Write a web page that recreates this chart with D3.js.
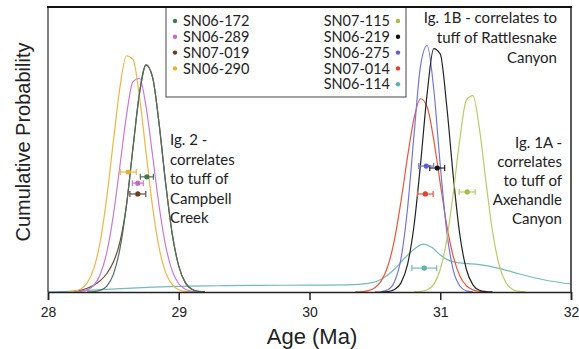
<!DOCTYPE html>
<html>
	<head>
		<meta charset="utf-8">
		<script src="https://cdn.jsdelivr.net/npm/d3@7"></script>
		<style>
			body { margin: 0; background: #fff; }
			.lab { font-family: Lato, "Open Sans", sans-serif; fill: #222; }
			.axt { font-family: "Liberation Sans", Arial, sans-serif; fill: #222; }
		</style>
	</head>
	<body>
		<script>
			// samples, in legend order
			var sampleNames = ["SN06-172", "SN06-289", "SN07-019", "SN06-290",
				"SN07-115", "SN06-219", "SN06-275", "SN07-014", "SN06-114"];
			var sampleColors = ["#3f7a55", "#c868c4", "#6b3b26", "#e8b032",
				"#a6bc48", "#111111", "#5c5cd0", "#e0402c", "#5fb0b0"];
			var curveColors = ["#4d6f5c", "#c87ad0", "#6b4a3a", "#eab648",
				"#bcc868", "#222222", "#7676d6", "#e4583e", "#74baba"];

			// weighted mean age (Ma), 2 sigma error and height the bar is drawn at
			var meanAge = [28.756, 28.687, 28.687, 28.614, 31.206, 30.977, 30.893, 30.886, 30.878];
			var ageErr = [0.05, 0.042, 0.061, 0.061, 0.061, 0.057, 0.057, 0.06, 0.095];
			var barLevel = [40.4, 38.2, 34.4, 42.1, 35.1, 43.5, 44.2, 34.4, 8.4];

			// probability curves [age, relative probability]
			var curve_SN06_172 = [[28.30,0.03],[28.35,0.14],[28.40,0.6],[28.45,2.1],[28.50,6.2],[28.55,15.1],
				[28.60,30.4],[28.65,50.6],[28.70,69.8],[28.75,79.7],[28.80,75.3],[28.85,58.9],[28.90,38.1],
				[28.95,20.4],[29.00,9.1],[29.05,3.3],[29.10,1.0],[29.15,0.25],[29.20,0.05]];
			var curve_SN06_289 = [[28.20,0.05],[28.25,0.2],[28.30,0.75],[28.35,2.3],[28.40,6.2],[28.45,14.0],
				[28.50,27.0],[28.55,44.2],[28.60,61.9],[28.65,73.8],[28.70,75.0],[28.75,65.0],[28.80,47.9],
				[28.85,30.1],[28.90,16.2],[28.95,7.4],[29.00,2.9],[29.05,0.95],[29.10,0.27],[29.15,0.06]];
			var curve_SN07_019 = [[28.20,0.2],[28.25,0.6],[28.30,1.3],[28.35,2.4],[28.40,4.0],[28.45,6.5],
				[28.50,10.5],[28.55,17.5],[28.60,30.4],[28.65,50.6],[28.70,69.8],[28.75,79.7],[28.80,75.3],
				[28.85,58.9],[28.90,38.1],[28.95,20.4],[29.00,9.1],[29.05,3.3],[29.10,1.0],[29.15,0.25],[29.20,0.05]];
			var curve_SN06_290 = [[28.15,0.07],[28.20,0.3],[28.25,1.05],[28.30,3.2],[28.35,8.2],[28.40,17.9],
				[28.45,33.3],[28.50,53.0],[28.55,71.8],[28.60,82.9],[28.65,81.6],[28.70,68.4],[28.75,48.9],
				[28.80,29.8],[28.85,15.5],[28.90,6.8],[28.95,2.6],[29.00,0.8],[29.05,0.2],[29.10,0.05]];
			var curve_SN07_115 = [[30.80,0.03],[30.85,0.18],[30.90,0.78],[30.95,2.7],[31.00,7.9],[31.05,18.4],
				[31.10,34.8],[31.15,53.7],[31.20,67.4],[31.25,68.9],[31.30,57.2],[31.35,38.6],[31.40,21.2],
				[31.45,9.5],[31.50,3.4],[31.55,1.0],[31.60,0.25],[31.65,0.05]];
			var curve_SN06_219 = [[30.55,0.03],[30.60,0.17],[30.65,0.84],[30.70,3.2],[30.75,9.7],[30.80,23.5],
				[30.85,45.3],[30.90,69.7],[30.95,85.4],[31.00,83.5],[31.05,65.1],[31.10,40.4],[31.15,20.0],
				[31.20,7.9],[31.25,2.5],[31.30,0.6],[31.35,0.12],[31.40,0.02]];
			var curve_SN06_275 = [[30.50,0.02],[30.55,0.15],[30.60,0.8],[30.65,3.6],[30.70,11.8],[30.75,29.4],
				[30.80,55.5],[30.85,79.6],[30.90,86.5],[30.95,71.3],[31.00,44.5],[31.05,21.1],[31.10,7.6],
				[31.15,2.1],[31.20,0.4],[31.25,0.07]];
			var curve_SN07_014 = [[30.35,0.03],[30.40,0.13],[30.45,0.47],[30.50,1.5],[30.55,4.0],[30.60,9.2],
				[30.65,18.4],[30.70,31.9],[30.75,47.5],[30.80,61.1],[30.85,67.8],[30.90,64.9],[30.95,53.5],
				[31.00,38.1],[31.05,23.4],[31.10,12.4],[31.15,5.6],[31.20,2.2],[31.25,0.75],[31.30,0.22],[31.35,0.05]];
			var curve_SN06_114 = [[28.00,0],[28.10,0.1],[28.20,0.35],[28.40,0.8],[28.60,1.3],[28.80,1.7],
				[29.00,2.0],[29.30,2.2],[29.60,2.35],[30.00,2.4],[30.30,2.5],[30.45,3.0],[30.55,4.5],
				[30.65,8.0],[30.72,11.5],[30.80,15.0],[30.87,16.8],[30.94,15.5],[31.00,13.0],[31.07,11.0],
				[31.15,10.2],[31.30,9.6],[31.45,8.3],[31.60,6.4],[31.80,4.2],[32.00,2.8]];

			var probCurves = [curve_SN06_172, curve_SN06_289, curve_SN07_019, curve_SN06_290,
				curve_SN07_115, curve_SN06_219, curve_SN06_275, curve_SN07_014, curve_SN06_114];

			var xTicks = [28, 29, 30, 31, 32];

			var width = 579;
			var height = 349;
			var pLeft = 48, pRight = 571, pTop = 7, pBottom = 292;

			var svg = d3.select('body').append('svg')
				.attr('width', width)
				.attr('height', height);

			var x = d3.scaleLinear().domain([28, 32]).range([pLeft, pRight]);
			var y = d3.scaleLinear().domain([0, 100]).range([pBottom, pTop]);

			var line = d3.line()
				.x(function (d) { return x(d[0]); })
				.y(function (d) { return y(d[1]); })
				.curve(d3.curveMonotoneX);

			svg.append('clipPath').attr('id', 'plotclip')
				.append('rect')
				.attr('x', pLeft).attr('y', pTop)
				.attr('width', pRight - pLeft).attr('height', pBottom - pTop);

			// teal first so the narrow peaks sit on top of it
			var drawOrder = [8, 2, 3, 1, 0, 7, 6, 5, 4];
			var plot = svg.append('g').attr('clip-path', 'url(#plotclip)');
			plot.selectAll('path.curve')
				.data(drawOrder)
				.enter()
				.append('path')
				.attr('class', 'curve')
				.attr('d', function (i) { return line(probCurves[i]); })
				.attr('fill', 'none')
				.attr('stroke', function (i) { return curveColors[i]; })
				.attr('stroke-width', 1.2);

			// error bars
			var bars = svg.selectAll('g.ebar')
				.data(d3.range(sampleNames.length))
				.enter()
				.append('g')
				.attr('class', 'ebar');
			bars.append('line')
				.attr('x1', function (i) { return x(meanAge[i] - ageErr[i]); })
				.attr('x2', function (i) { return x(meanAge[i] + ageErr[i]); })
				.attr('y1', function (i) { return y(barLevel[i]); })
				.attr('y2', function (i) { return y(barLevel[i]); })
				.attr('stroke', function (i) { return curveColors[i]; })
				.attr('stroke-width', 1.2);
			[-1, 1].forEach(function (s) {
				bars.append('line')
					.attr('x1', function (i) { return x(meanAge[i] + s * ageErr[i]); })
					.attr('x2', function (i) { return x(meanAge[i] + s * ageErr[i]); })
					.attr('y1', function (i) { return y(barLevel[i]) - 3; })
					.attr('y2', function (i) { return y(barLevel[i]) + 3; })
					.attr('stroke', function (i) { return curveColors[i]; })
					.attr('stroke-width', 1.2);
			});
			bars.append('circle')
				.attr('cx', function (i) { return x(meanAge[i]); })
				.attr('cy', function (i) { return y(barLevel[i]); })
				.attr('r', 2.6)
				.attr('fill', function (i) { return sampleColors[i]; });

			// frame
			svg.append('line').attr('x1', pLeft).attr('x2', pLeft).attr('y1', pTop).attr('y2', pBottom)
				.attr('stroke', '#555').attr('stroke-width', 1.5);
			svg.append('line').attr('x1', pRight).attr('x2', pRight).attr('y1', pTop).attr('y2', pBottom)
				.attr('stroke', '#222').attr('stroke-width', 1.5);

			// legend
			var lg = svg.append('g');
			lg.append('rect')
				.attr('x', 166).attr('y', pTop).attr('width', 240).attr('height', 90)
				.attr('fill', '#fff').attr('stroke', '#444').attr('stroke-width', 1);
			for (var i = 0; i < sampleNames.length; i++) {
				var row = i < 4 ? i : i - 4;
				var ly = 21 + row * 15.8;
				if (i < 4) {
					lg.append('circle').attr('cx', 175).attr('cy', ly).attr('r', 2.2).attr('fill', sampleColors[i]);
					lg.append('text').attr('class', 'lab').attr('x', 183).attr('y', ly + 5.2)
						.attr('font-size', 14.5).text(sampleNames[i]);
				} else {
					lg.append('circle').attr('cx', 398).attr('cy', ly).attr('r', 2.2).attr('fill', sampleColors[i]);
					lg.append('text').attr('class', 'lab').attr('x', 390).attr('y', ly + 5.2)
						.attr('text-anchor', 'end').attr('font-size', 14.5).text(sampleNames[i]);
				}
			}

			svg.append('line').attr('x1', pLeft - 1).attr('x2', pRight + 1).attr('y1', pTop).attr('y2', pTop)
				.attr('stroke', '#111').attr('stroke-width', 2);

			// x axis
			var xAxis = d3.axisBottom(x).tickValues(xTicks).tickSize(8).tickPadding(7)
				.tickFormat(d3.format('d'));
			var gx = svg.append('g').attr('transform', 'translate(0,' + pBottom + ')').call(xAxis);
			gx.select('.domain').attr('stroke', '#222').attr('stroke-width', 1.5);
			gx.selectAll('.tick line').attr('stroke', '#222').attr('stroke-width', 1.5);
			gx.selectAll('.tick text').attr('class', 'axt').attr('font-size', 14);

			svg.append('text').attr('class', 'axt')
				.attr('x', 312).attr('y', 344)
				.attr('text-anchor', 'middle').attr('font-size', 22)
				.text('Age (Ma)');
			svg.append('text').attr('class', 'axt')
				.attr('transform', 'translate(30,142) rotate(-90)')
				.attr('text-anchor', 'middle').attr('font-size', 20)
				.text('Cumulative Probability');

			// group notes
			var note2 = ["Ig. 2 -", "correlates", "to tuff of", "Campbell", "Creek"];
			var note1B = ["Ig. 1B - correlates to", "tuff of Rattlesnake", "Canyon"];
			var note1A = ["Ig. 1A -", "correlates", "to tuff of", "Axehandle", "Canyon"];

			note2.forEach(function (t, k) {
				svg.append('text').attr('class', 'lab').attr('x', 170).attr('y', 145 + k * 19.6)
					.attr('font-size', 15).text(t);
			});
			note1B.forEach(function (t, k) {
				svg.append('text').attr('class', 'lab').attr('x', 557).attr('y', 23 + k * 20)
					.attr('text-anchor', 'end').attr('font-size', 15).text(t);
			});
			note1A.forEach(function (t, k) {
				svg.append('text').attr('class', 'lab').attr('x', 562).attr('y', 148 + k * 19.1)
					.attr('text-anchor', 'end').attr('font-size', 15).text(t);
			});
		</script>
	</body>
</html>
